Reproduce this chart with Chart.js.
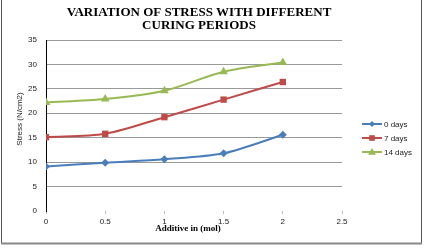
<!DOCTYPE html>
<html>
<head>
<meta charset="utf-8">
<script src="https://cdn.jsdelivr.net/npm/chart.js@4/dist/chart.umd.min.js"></script>
<style>
  body { margin: 0; background: #fff; }
  #wrap { width: 432px; height: 248px; }
</style>
</head>
<body>
<div id="wrap"><canvas id="chart" width="432" height="248"></canvas></div>
<script>
// values
const additive = [0, 0.5, 1, 1.5, 2];
const days0 = [9.1, 9.9, 10.6, 11.8, 15.6];
const days7 = [15.1, 15.8, 19.2, 22.8, 26.4];
const days14 = [22.2, 22.9, 24.6, 28.5, 30.4];
const seriesNames = ['0 days', '7 days', '14 days'];
const titleLines = ['VARIATION OF STRESS WITH DIFFERENT', 'CURING PERIODS'];
const xTitle = 'Additive in (mol)';
const yTitle = 'Stress (N/cm2)';

const colors = ['#4A7EBB', '#BE4B48', '#98B954'];
const styles = ['rectRot', 'rect', 'triangle'];
const radii = [4, 4.5, 5];

function pts(ys) {
    return additive.map((x, i) => ({ x: x, y: ys[i] }));
}

function marker(ctx, style, x, y, r, color) {
    ctx.save();
    ctx.fillStyle = color;
    ctx.beginPath();
    if (style === 'rect') {
        ctx.rect(x - r * 0.8, y - r * 0.8, r * 1.6, r * 1.6);
    } else if (style === 'rectRot') {
        ctx.moveTo(x, y - r); ctx.lineTo(x + r, y); ctx.lineTo(x, y + r); ctx.lineTo(x - r, y);
        ctx.closePath();
    } else {
        ctx.moveTo(x, y - r); ctx.lineTo(x + r, y + r * 0.7); ctx.lineTo(x - r, y + r * 0.7);
        ctx.closePath();
    }
    ctx.fill();
    ctx.restore();
}

const extras = {
    id: 'extras',
    afterDraw(chart) {
        const ctx = chart.ctx;
        ctx.save();
        // frame
        ctx.strokeStyle = '#555';
        ctx.lineWidth = 1;
        ctx.beginPath();
        ctx.moveTo(1.5, 0); ctx.lineTo(1.5, 243);
        ctx.moveTo(421.5, 0); ctx.lineTo(421.5, 243);
        ctx.stroke();
        ctx.strokeStyle = '#888';
        ctx.lineWidth = 2;
        ctx.beginPath();
        ctx.moveTo(1, 243.5); ctx.lineTo(422, 243.5);
        ctx.stroke();

        // title
        ctx.fillStyle = '#000';
        ctx.textAlign = 'center';
        ctx.textBaseline = 'middle';
        ctx.font = 'bold 13px "Liberation Serif"';
        ctx.fillText(titleLines[0], 199, 13);
        ctx.fillText(titleLines[1], 199, 26);

        // x title
        ctx.font = 'bold 9px "Liberation Serif"';
        ctx.fillText(xTitle, 188, 229);

        // y title
        ctx.font = '8px "Liberation Sans"';
        ctx.fillStyle = '#222';
        ctx.translate(20, 119);
        ctx.rotate(-Math.PI / 2);
        ctx.fillText(yTitle, 0, 0);
        ctx.restore();

        // legend
        ctx.save();
        ctx.font = '8px "Liberation Sans"';
        ctx.textAlign = 'left';
        ctx.textBaseline = 'middle';
        seriesNames.forEach((name, i) => {
            const y = 124 + i * 14;
            ctx.strokeStyle = colors[i];
            ctx.lineWidth = 2;
            ctx.beginPath();
            ctx.moveTo(362, y); ctx.lineTo(382, y);
            ctx.stroke();
            marker(ctx, styles[i], 372, y, radii[i] - 1, colors[i]);
            ctx.fillStyle = '#222';
            ctx.fillText(name, 384, y + 0.5);
        });
        ctx.restore();
    }
};

new Chart(document.getElementById('chart').getContext('2d'), {
    type: 'line',
    data: {
        datasets: [days0, days7, days14].map((ys, i) => ({
            label: seriesNames[i],
            data: pts(ys),
            borderColor: colors[i],
            backgroundColor: colors[i],
            borderWidth: 2,
            pointStyle: styles[i],
            pointRadius: radii[i],
            pointBorderWidth: 0,
            tension: 0.3,
            fill: false
        }))
    },
    options: {
        responsive: false,
        animation: false,
        devicePixelRatio: 1,
        layout: { padding: { left: 0, top: 40, right: 90, bottom: 0 } },
        plugins: {
            legend: { display: false },
            title: { display: false },
            tooltip: { enabled: false }
        },
        scales: {
            x: {
                type: 'linear',
                min: 0,
                max: 2.5,
                afterFit(scale) { scale.height = 37; },
                ticks: {
                    stepSize: 0.5,
                    padding: 3,
                    color: '#222',
                    font: { family: 'Liberation Sans', size: 8 },
                    callback: v => String(v)
                },
                grid: {
                    drawOnChartArea: false,
                    drawTicks: true,
                    tickLength: 3,
                    tickColor: '#bbb'
                },
                border: { display: false }
            },
            y: {
                min: 0,
                max: 35,
                afterFit(scale) { scale.width = 46; },
                ticks: {
                    stepSize: 5,
                    padding: 9,
                    color: '#222',
                    font: { family: 'Liberation Sans', size: 8 }
                },
                grid: {
                    drawTicks: false,
                    color: ctx => ctx.tick && ctx.tick.value === 0 ? 'rgba(0,0,0,0)' : '#999'
                },
                border: { display: true, color: '#000', width: 1 }
            }
        }
    },
    plugins: [extras]
});
</script>
</body>
</html>
